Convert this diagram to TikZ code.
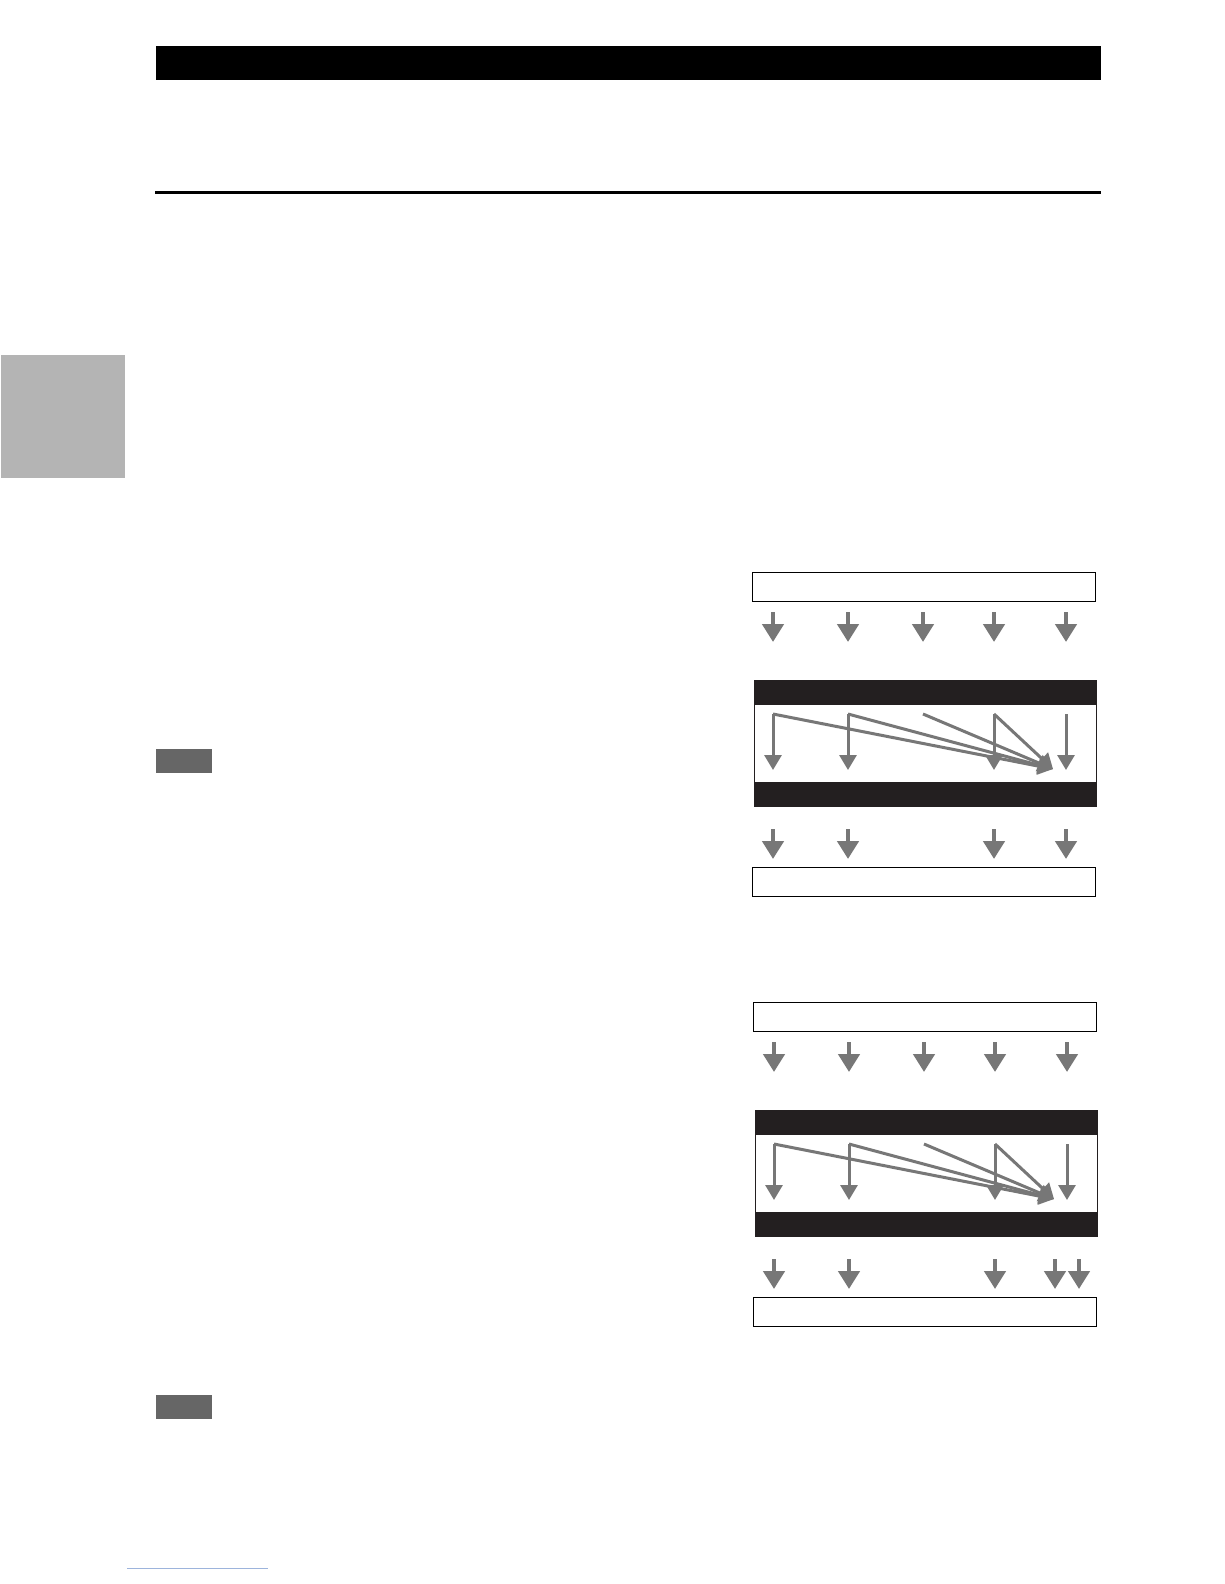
\documentclass[tikz,border=0pt]{standalone}
\usetikzlibrary{arrows.meta}

\definecolor{arrowgray}{HTML}{777777}
\definecolor{bandblack}{HTML}{231F20}
\definecolor{tabgray}{HTML}{B4B4B4}
\definecolor{notegray}{HTML}{666666}
\definecolor{linkblue}{HTML}{9DB4DC}

\tikzset{
	bigarrow/.style={arrowgray, line width=4.5pt, -{Triangle[width=21pt,length=18pt]}},
	thinarrow/.style={arrowgray, line width=3pt, -{Triangle[width=17pt,length=15pt]}},
	chbox/.style={draw=black, line width=1pt, fill=white},
	band/.style={fill=bandblack},
}

% one channel panel: input box, arrows, mixer frame
\newcommand{\chpanel}{%
	\draw[chbox] (752,572) rectangle (1095,601);
	\foreach \cx in {773,848,923,994,1066}
		\draw[bigarrow] (\cx,612) -- (\cx,642);

	\fill[band] (754,680) rectangle (1097,705);
	\fill[band] (754,782) rectangle (1097,807);
	\draw[bandblack, line width=1pt] (754.5,705) -- (754.5,782);
	\draw[bandblack, line width=1pt] (1096.5,705) -- (1096.5,782);

	\coordinate (tip) at (1053,769);
	\coordinate (fl) at (773,714);
	\coordinate (fr) at (848,714);
	\coordinate (c) at (923,714);
	\coordinate (sl) at (994,714);
	\coordinate (sr) at (1066,714);

	\draw[thinarrow] (fl) -- (773,770);
	\draw[thinarrow] (fr) -- (848,770);
	\draw[thinarrow] (sl) -- (994,770);
	\draw[thinarrow] (sr) -- (1066,770);
	\draw[thinarrow] (fl) -- (tip);
	\draw[thinarrow] (fr) -- (tip);
	\draw[thinarrow] (c) -- (tip);
	\draw[thinarrow] (sl) -- (tip);

	\draw[chbox] (752,867) rectangle (1095,896);
}

\begin{document}
\begin{tikzpicture}[x=1pt, y=-1pt]
	\useasboundingbox[fill=white] (0,0) rectangle (1224,1584);

	% header
	\fill[black] (156,46) rectangle (1101,80);
	\fill[black] (155,191) rectangle (1101,194);

	% side tab
	\fill[tabgray] (1,355) rectangle (125,478);

	% note marks
	\fill[notegray] (156,749) rectangle (212,773);
	\fill[notegray] (156,1395) rectangle (212,1419);

	% first panel
	\begin{scope}
		\chpanel
		\foreach \cx in {773,848,994,1066}
			\draw[bigarrow] (\cx,829) -- (\cx,859);
	\end{scope}

	% second panel
	\begin{scope}[shift={(1,430)}]
		\chpanel
		\foreach \cx in {773,848,994,1054,1078}
			\draw[bigarrow] (\cx,829) -- (\cx,859);
	\end{scope}

	% footer link
	\draw[linkblue, line width=0.8pt] (127,1568) -- (268,1568);
\end{tikzpicture}
\end{document}
